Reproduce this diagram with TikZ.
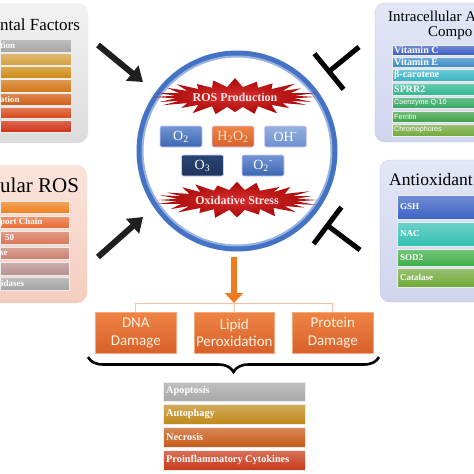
\documentclass[tikz,border=0pt]{standalone}
\usepackage{fontspec}
\setmainfont{Liberation Serif}
\setsansfont{Liberation Sans}
\newfontfamily\carlito{Carlito}
\usetikzlibrary{arrows.meta,decorations.pathreplacing,calc}

\definecolor{envA}{HTML}{F2F2F2}\definecolor{envB}{HTML}{DCDCDC}
\definecolor{rosA}{HTML}{FBE4DB}\definecolor{rosB}{HTML}{F4CDBF}
\definecolor{antA}{HTML}{E3E6F6}\definecolor{antB}{HTML}{D0D5EE}
\definecolor{e1}{HTML}{A6A6A6}\definecolor{e2}{HTML}{D4A040}\definecolor{e3}{HTML}{CC8A12}
\definecolor{e4}{HTML}{D47616}\definecolor{e5}{HTML}{D25C14}\definecolor{e6}{HTML}{D84818}
\definecolor{e7}{HTML}{CE3212}
\definecolor{r1}{HTML}{F0801E}\definecolor{r2}{HTML}{E86C34}\definecolor{r3}{HTML}{D8765A}
\definecolor{r4}{HTML}{CC8070}\definecolor{r5}{HTML}{B89090}\definecolor{r6}{HTML}{A4A4A4}
\definecolor{v1}{HTML}{3A5EC2}\definecolor{v2}{HTML}{3C8CC8}\definecolor{v3}{HTML}{38B4C4}
\definecolor{v4}{HTML}{30B890}\definecolor{v5}{HTML}{34A860}\definecolor{v6}{HTML}{40A248}
\definecolor{v7}{HTML}{74AA3C}
\definecolor{g1}{HTML}{3C62C4}\definecolor{g2}{HTML}{34C0B4}\definecolor{g3}{HTML}{3EAE48}
\definecolor{g4}{HTML}{70AA3A}
\definecolor{ringblue}{HTML}{4472C4}\definecolor{ringlight}{HTML}{9AB4E0}
\definecolor{burstout}{HTML}{A80808}\definecolor{burstin}{HTML}{D83030}
\definecolor{burstfg}{HTML}{FBE6E6}
\definecolor{orA}{HTML}{EE8444}\definecolor{orB}{HTML}{D8602A}\definecolor{orline}{HTML}{F4C0A0}
\definecolor{orarr}{HTML}{F07A20}
\definecolor{c1}{HTML}{A8A8A8}\definecolor{c2}{HTML}{C08A1A}\definecolor{c3}{HTML}{C85A18}
\definecolor{c4}{HTML}{C83A1A}

\newcommand\barnode[8]{%
  \node[barsty, top color=#6!72!white, bottom color=#6,
        minimum width={(#4)-(#2)}, minimum height={(#5)-(#3)}] (#1) at (#2,#3) {};
  \node[bartxt] (#1t) at (#8,{((#3)+(#5))/2}) {#7};
}

\begin{document}
\begin{tikzpicture}[x=1pt,y=-1pt,
  panel/.style={rectangle, rounded corners=10pt, inner sep=0pt, outer sep=0pt, anchor=north west},
  barsty/.style={rectangle, inner sep=0pt, outer sep=0pt, anchor=north west, draw=white!85!gray, line width=0.4pt},
  bartxt/.style={anchor=west, inner sep=0pt, text=white, font=\bfseries\fontsize{9}{9}\selectfont},
  title/.style={anchor=west, inner sep=0pt, text=black, font=\fontsize{17}{17}\selectfont},
  species/.style={rectangle, rounded corners=2pt, minimum width=42pt, minimum height=21pt, inner sep=0pt,
                  draw=white!80!blue, line width=0.6pt, text=white, font=\fontsize{14}{14}\selectfont},
  bursttxt/.style={inner sep=0pt, text=burstfg, font=\bfseries\fontsize{12}{12}\selectfont},
  blkarrow/.style={line width=6pt, draw=black!88, -{Triangle[width=19pt,length=14pt]}},
  inhib/.style={line width=5pt, draw=black},
  orarrow/.style={line width=6pt, draw=orarr, -{Triangle[width=18pt,length=10pt]}},
  treeline/.style={line width=1pt, draw=orline},
  effect/.style={rectangle, anchor=north west, minimum width=81pt, minimum height=41pt, inner sep=0pt,
                 top color=orA, bottom color=orB, draw=orA!70!white, line width=0.6pt,
                 text=white!88!orange, align=center, font=\carlito\fontsize{15}{17.5}\selectfont},
  brace/.style={decorate, decoration={brace, mirror, amplitude=15pt}, line width=2.6pt, draw=black}
]
\useasboundingbox (0,0) rectangle (474,474);
\fill[white] (0,0) rectangle (474,474);

% ---------- panels ----------
\node[panel, minimum width=110pt, minimum height=140pt, top color=envA, bottom color=envB] (envpanel) at (-22,3) {};
\node[panel, minimum width=109pt, minimum height=138pt, top color=rosA, bottom color=rosB] (rospanel) at (-22,165) {};
\node[panel, minimum width=120pt, minimum height=139pt, top color=antA, bottom color=antB, draw=antB!90!black, line width=0.3pt] (icpanel) at (375,3) {};
\node[panel, minimum width=115pt, minimum height=142pt, top color=antA, bottom color=antB, draw=antB!90!black, line width=0.3pt] (aopanel) at (380,160) {};

% titles
\node[title] (envtitle) at (0,25) {ntal Factors};
\node[title, font=\fontsize{21}{21}\selectfont] (rostitle) at (0,185) {ular ROS};
\node[title, font=\fontsize{15}{15}\selectfont] (ictitle) at (388,16.5) {Intracellular A};
\node[title, font=\fontsize{15}{15}\selectfont] (ictitleb) at (428,33) {Compo};
\node[title, font=\fontsize{17.5}{17.5}\selectfont] (aotitle) at (389,180) {Antioxidant};

% environmental bars
\barnode{eb1}{0}{39}{71}{52}{e1}{tion}{0}
\barnode{eb2}{0}{53}{71}{65}{e2}{}{0}
\barnode{eb3}{0}{66}{71}{78}{e3}{}{0}
\barnode{eb4}{0}{79}{71}{92}{e4}{}{0}
\barnode{eb5}{0}{93}{71}{105}{e5}{ation}{0}
\barnode{eb6}{0}{107}{71}{118}{e6}{}{0}
\barnode{eb7}{0}{120}{71}{132}{e7}{}{0}

% intracellular ROS bars
\barnode{rb1}{0}{201}{69}{213}{r1}{}{0}
\barnode{rb2}{0}{216}{69}{228}{r2}{port Chain}{0}
\barnode{rb3}{0}{231}{69}{244}{r3}{50}{5}
\barnode{rb4}{0}{247}{69}{259}{r4}{se}{0}
\barnode{rb5}{0}{262}{69}{275}{r5}{}{0}
\barnode{rb6}{0}{277}{69}{290}{r6}{idases}{1}

% intracellular antioxidant bars
\barnode{vb1}{392}{45}{494}{55}{v1}{\fontsize{10}{10}\selectfont Vitamin C}{394}
\barnode{vb2}{392}{57}{494}{67}{v2}{\fontsize{10}{10}\selectfont Vitamin E}{394}
\barnode{vb3}{392}{69}{494}{81}{v3}{\fontsize{10}{10}\selectfont β-carotene}{394}
\barnode{vb4}{392}{83}{494}{95}{v4}{\fontsize{10}{10}\selectfont SPRR2}{394}
\barnode{vb5}{392}{97}{494}{108}{v5}{\sffamily\mdseries\fontsize{7.2}{7.2}\selectfont Coenzyme Q-10}{394}
\barnode{vb6}{392}{111}{494}{122}{v6}{\sffamily\mdseries\fontsize{7.2}{7.2}\selectfont Ferritin}{394}
\barnode{vb7}{392}{124}{494}{136}{v7}{\sffamily\mdseries\fontsize{7.2}{7.2}\selectfont Chromophores}{394}

% antioxidant bars
\barnode{ab1}{397}{195}{494}{219}{g1}{\fontsize{9}{9}\selectfont GSH}{400}
\barnode{ab2}{397}{222}{494}{246}{g2}{\fontsize{9}{9}\selectfont NAC}{400}
\barnode{ab3}{397}{249}{494}{266}{g3}{\fontsize{9}{9}\selectfont SOD2}{400}
\barnode{ab4}{397}{268}{494}{287}{g4}{\fontsize{9}{9}\selectfont Catalase}{400}

% ---------- central circle ----------
\node[circle, minimum size=195pt, inner sep=0pt, draw=ringblue, line width=6pt, fill=white] (ring) at (237,151) {};
\draw[ringlight, line width=2pt] (ring.center) circle (94.5);

% starbursts
\begin{scope}[shift={(235,97)}]
\shade[inner color=burstin, outer color=burstout]
  (80,0) \foreach \i in {1,...,47}{ -- ({ifthenelse(isodd(\i),60,80+5*sin(\i*97))*cos(\i*7.5)},
                                       {ifthenelse(isodd(\i),10,17+2*sin(\i*53))*sin(\i*7.5)}) } -- cycle;
\end{scope}
\node[bursttxt] (rosprod) at (235,97) {ROS Production};
\begin{scope}[shift={(237,200)}]
\shade[inner color=burstin, outer color=burstout]
  (80,0) \foreach \i in {1,...,47}{ -- ({ifthenelse(isodd(\i),60,80+5*sin(\i*83))*cos(\i*7.5)},
                                       {ifthenelse(isodd(\i),10,17+2*sin(\i*61))*sin(\i*7.5)}) } -- cycle;
\end{scope}
\node[bursttxt] (oxstress) at (237,200) {Oxidative Stress};

% species
\node[species, top color=ringblue!75!white, bottom color=ringblue!90!black] (o2) at (181,136.5) {O\textsubscript{2}};
\node[species, top color=orA, bottom color=orB, text=white!80!orange] (h2o2) at (233,136.5) {H\textsubscript{2}O\textsubscript{2}};
\node[species, top color=ringblue!55!white, bottom color=ringblue!80!white] (oh) at (285.5,136.5) {OH\textsuperscript{-}};
\node[species, top color=ringblue!60!black, bottom color=ringblue!45!black] (o3) at (202.5,165.5) {O\textsubscript{3}};
\node[species, top color=ringblue!75!white, bottom color=ringblue!90!black] (o2m) at (263,165.5) {O\textsubscript{2}\textsuperscript{-}};

% ---------- arrows into the circle ----------
\coordinate (a1s) at (98,45);  \coordinate (a1e) at (143,82);
\coordinate (a2s) at (98,257); \coordinate (a2e) at (143,217);
\draw[blkarrow] (a1s) -- (a1e);
\draw[blkarrow] (a2s) -- (a2e);

% inhibition bars
\coordinate (i1s) at (359,47);  \coordinate (i1e) at (329,71.5);
\coordinate (i2s) at (360,250); \coordinate (i2e) at (327.5,225.5);
\draw[inhib] (i1s) -- (i1e);
\draw[inhib] ($(i1e)!23pt!90:(i1s)$) -- ($(i1e)!23pt!-90:(i1s)$);
\draw[inhib] (i2s) -- (i2e);
\draw[inhib] ($(i2e)!23pt!90:(i2s)$) -- ($(i2e)!23pt!-90:(i2s)$);

% ---------- consequences ----------
\node[effect] (dna) at (95,312) {DNA\\Damage};
\node[effect, minimum width=80pt] (lipid) at (194,312) {Lipid\\Peroxidation};
\node[effect] (protein) at (292,312) {Protein\\Damage};

\coordinate (arrtop) at (234,257);
\coordinate (split) at (234,303);
\draw[treeline] (dna.north) -- (dna.north |- split) -- (protein.north |- split) -- (protein.north);
\draw[treeline] (split) -- (lipid.north);
\draw[orarrow] (arrtop) -- (split);

\coordinate (brL) at (88,357);
\coordinate (brR) at (379,357);
\draw[brace] (brL) -- (brR);

\barnode{cb1}{163}{382}{305}{401}{c1}{\fontsize{10.3}{10.3}\selectfont Apoptosis}{166}
\barnode{cb2}{163}{404}{305}{424}{c2}{\fontsize{10.3}{10.3}\selectfont Autophagy}{166}
\barnode{cb3}{163}{427}{305}{447}{c3}{\fontsize{10.3}{10.3}\selectfont Necrosis}{166}
\barnode{cb4}{163}{450}{305}{470}{c4}{\fontsize{10.3}{10.3}\selectfont Proinflammatory Cytokines}{166}
\end{tikzpicture}
\end{document}
